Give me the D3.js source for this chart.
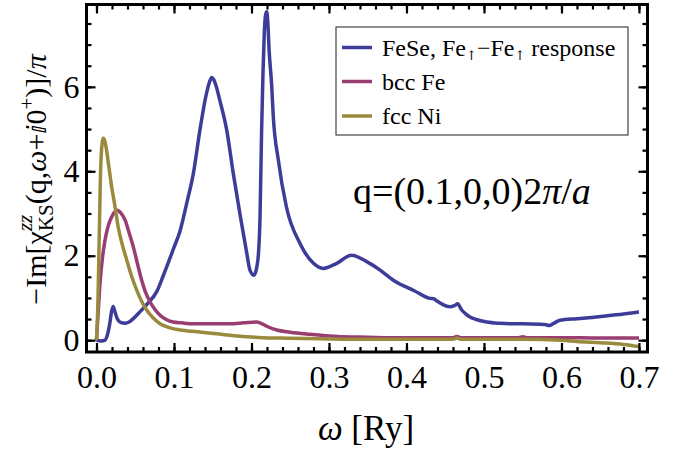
<!DOCTYPE html>
<html>
<head>
<meta charset="UTF-8">
<title></title>
<script src="https://cdn.jsdelivr.net/npm/d3@7"></script>
<style>
  body { margin: 0; background: #fff; }
  text { font-family: "Liberation Serif", "Times New Roman", serif; fill: #000; }
</style>
</head>
<body>
<script>
// FeSe, Fe(up)-Fe(up) response
var feseW = [0, 0.006, 0.011, 0.014, 0.017, 0.0195, 0.0215, 0.024, 0.027, 0.031, 0.0368, 0.042, 0.0475, 0.056, 0.065, 0.0777, 0.086, 0.099, 0.108, 0.1164, 0.125, 0.1335, 0.142, 0.1465, 0.1486, 0.151, 0.155, 0.159, 0.168, 0.1765, 0.185, 0.194, 0.198, 0.2032, 0.2065, 0.209, 0.211, 0.213, 0.2148, 0.2165, 0.2182, 0.2196, 0.221, 0.2228, 0.226, 0.2281, 0.2346, 0.245, 0.2626, 0.28, 0.2926, 0.31, 0.329, 0.3486, 0.366, 0.383, 0.41, 0.43, 0.435, 0.44, 0.456, 0.462, 0.466, 0.471, 0.476, 0.482, 0.49, 0.5035, 0.52, 0.5335, 0.55, 0.572, 0.579, 0.584, 0.59, 0.598, 0.62, 0.645, 0.67, 0.70];
var feseChi = [0, -0.02, 0.0, 0.12, 0.38, 0.68, 0.8, 0.66, 0.5, 0.42, 0.40, 0.43, 0.51, 0.67, 0.85, 1.15, 1.52, 2.15, 2.6, 3.24, 3.95, 4.98, 5.85, 6.15, 6.22, 6.18, 5.98, 5.69, 4.98, 3.95, 3.0, 2.05, 1.66, 1.54, 1.7, 2.05, 2.9, 4.9, 6.3, 7.27, 7.7, 7.78, 7.55, 6.85, 6.05, 5.3, 4.27, 3.16, 2.29, 1.82, 1.70, 1.82, 2.01, 1.86, 1.66, 1.42, 1.17, 0.99, 0.98, 0.92, 0.79, 0.82, 0.86, 0.72, 0.63, 0.55, 0.49, 0.43, 0.40, 0.39, 0.39, 0.38, 0.37, 0.35, 0.40, 0.47, 0.51, 0.55, 0.60, 0.67];

// bcc Fe
var bccW = [0, 0.0023, 0.0045, 0.008, 0.011, 0.015, 0.0196, 0.023, 0.027, 0.031, 0.037, 0.042, 0.0475, 0.053, 0.0583, 0.063, 0.069, 0.075, 0.082, 0.09, 0.099, 0.11, 0.125, 0.15, 0.172, 0.19, 0.2067, 0.211, 0.2196, 0.2325, 0.25, 0.2755, 0.30, 0.318, 0.35, 0.379, 0.43, 0.46, 0.465, 0.47, 0.50, 0.545, 0.55, 0.555, 0.60, 0.65, 0.70];
var bccChi = [0, 0.71, 1.34, 2.0, 2.37, 2.7, 2.92, 3.03, 3.08, 3.02, 2.84, 2.55, 2.21, 1.8, 1.42, 1.15, 0.91, 0.74, 0.59, 0.49, 0.43, 0.41, 0.39, 0.39, 0.39, 0.41, 0.43, 0.41, 0.33, 0.24, 0.19, 0.14, 0.10, 0.08, 0.07, 0.06, 0.06, 0.06, 0.09, 0.06, 0.06, 0.06, 0.08, 0.06, 0.06, 0.05, 0.05];

// fcc Ni
var niW = [0, 0.002, 0.0036, 0.005, 0.0065, 0.0088, 0.011, 0.013, 0.016, 0.0196, 0.024, 0.028, 0.033, 0.039, 0.045, 0.052, 0.058, 0.065, 0.073, 0.082, 0.095, 0.108, 0.13, 0.151, 0.175, 0.194, 0.215, 0.237, 0.27, 0.30, 0.35, 0.40, 0.46, 0.465, 0.47, 0.50, 0.55, 0.60, 0.62, 0.65, 0.68, 0.70];
var niChi = [0, 1.0, 2.53, 3.8, 4.5, 4.78, 4.7, 4.5, 4.1, 3.63, 3.15, 2.68, 2.28, 1.90, 1.53, 1.18, 0.93, 0.71, 0.53, 0.39, 0.29, 0.24, 0.20, 0.16, 0.11, 0.08, 0.06, 0.05, 0.04, 0.03, 0.02, 0.02, 0.02, 0.05, 0.02, 0.02, 0.02, 0.0, -0.03, -0.06, -0.10, -0.15];

var seriesNames = ["FeSe", "bcc Fe", "fcc Ni"];
var xTicks = [0, 0.1, 0.2, 0.3, 0.4, 0.5, 0.6, 0.7];
var yTicks = [0, 2, 4, 6];

var width = 685, height = 454;
var box = {left: 86.5, right: 647.5, top: 4.5, bottom: 352};
var colors = ["#3d3d99", "#993d72", "#998a3d"];

var svg = d3.select("body").append("svg")
  .attr("width", width).attr("height", height);

var x = d3.scaleLinear().domain([-0.0129, 0.711]).range([box.left, box.right]);
var y = d3.scaleLinear().domain([-0.28, 7.95]).range([box.bottom, box.top]);

// clip to frame
svg.append("clipPath").attr("id", "clip").append("rect")
  .attr("x", box.left).attr("y", box.top)
  .attr("width", box.right - box.left).attr("height", box.bottom - box.top);

var line = d3.line()
  .x(function(d){ return x(d[0]); })
  .y(function(d){ return y(d[1]); })
  .curve(d3.curveMonotoneX);

var data = [d3.zip(feseW, feseChi), d3.zip(bccW, bccChi), d3.zip(niW, niChi)];

svg.append("g").attr("clip-path", "url(#clip)")
  .selectAll("path").data(data).enter().append("path")
  .attr("d", line)
  .attr("fill", "none")
  .attr("stroke", function(d, i){ return colors[i]; })
  .attr("stroke-width", 3.5)
  .attr("stroke-linejoin", "round");

// ticks (inward, on all four sides)
var xMinor = d3.range(0, 0.701, 0.02);
var yMinor = d3.range(0, 7.51, 0.5);

function styleAxis(g) {
  g.select(".domain").remove();
  g.selectAll(".tick line").attr("stroke", "#000").attr("stroke-width", 2.2);
  g.selectAll(".tick text").attr("font-size", 32).attr("font-family", "Liberation Serif").attr("fill", "#000");
}

svg.append("g").attr("transform", "translate(0," + box.bottom + ")")
  .call(d3.axisBottom(x).tickValues(xMinor).tickSize(-5).tickFormat("")).call(styleAxis);
svg.append("g").attr("transform", "translate(0," + box.bottom + ")")
  .call(d3.axisBottom(x).tickValues(xTicks).tickSize(-9).tickPadding(13).tickFormat(d3.format(".1f"))).call(styleAxis);
svg.append("g").attr("transform", "translate(0," + box.top + ")")
  .call(d3.axisTop(x).tickValues(xMinor).tickSize(-5).tickFormat("")).call(styleAxis);
svg.append("g").attr("transform", "translate(0," + box.top + ")")
  .call(d3.axisTop(x).tickValues(xTicks).tickSize(-9).tickFormat("")).call(styleAxis);

svg.append("g").attr("transform", "translate(" + box.left + ",0)")
  .call(d3.axisLeft(y).tickValues(yMinor).tickSize(-5).tickFormat("")).call(styleAxis);
svg.append("g").attr("transform", "translate(" + box.left + ",0)")
  .call(d3.axisLeft(y).tickValues(yTicks).tickSize(-9).tickPadding(7).tickFormat(d3.format("d"))).call(styleAxis);
svg.append("g").attr("transform", "translate(" + box.right + ",0)")
  .call(d3.axisRight(y).tickValues(yMinor).tickSize(-5).tickFormat("")).call(styleAxis);
svg.append("g").attr("transform", "translate(" + box.right + ",0)")
  .call(d3.axisRight(y).tickValues(yTicks).tickSize(-9).tickFormat("")).call(styleAxis);

// frame
svg.append("rect")
  .attr("x", box.left).attr("y", box.top)
  .attr("width", box.right - box.left).attr("height", box.bottom - box.top)
  .attr("fill", "none").attr("stroke", "#000").attr("stroke-width", 3);

// x label
var xl = svg.append("text").attr("x", 366).attr("y", 440)
  .attr("text-anchor", "middle").attr("font-size", 35);
xl.append("tspan").attr("font-style", "italic").text("ω");
xl.append("tspan").text(" [Ry]");

// y label (rotated), built from runs
var yg = svg.append("g").attr("transform", "translate(46,179) rotate(-90)");
var yl = yg.append("text").attr("x", 0).attr("y", 0).attr("font-size", 30);
yl.append("tspan").text("−Im[");
yl.append("tspan").text("χ");
var ks = yl.append("tspan").attr("font-size", 21).attr("dy", 7).text("KS");
var ksW = ks.node().getComputedTextLength();
var zz = yl.append("tspan").attr("font-size", 21).attr("font-style", "italic").attr("dy", -21).attr("dx", -ksW).text("zz");
var zzW = zz.node().getComputedTextLength();
yl.append("tspan").attr("dy", 14).attr("dx", Math.max(0, ksW - zzW)).text("(q,");
yl.append("tspan").attr("font-style", "italic").text("ω");
yl.append("tspan").text("+");
yl.append("tspan").attr("font-family", "DejaVu Sans").attr("font-size", 26).text("ⅈ");
yl.append("tspan").text("0");
yl.append("tspan").attr("font-size", 21).attr("dy", -12).text("+");
yl.append("tspan").attr("dy", 12).text(")]/");
yl.append("tspan").attr("font-style", "italic").text("π");
var yb = yl.node().getBBox();
yl.attr("x", -yb.width / 2);

// annotation
var qt = svg.append("text").attr("x", 353).attr("y", 204).attr("font-size", 38);
qt.append("tspan").text("q=(0.1,0,0)2");
qt.append("tspan").attr("font-style", "italic").text("π");
qt.append("tspan").text("/");
qt.append("tspan").attr("font-style", "italic").text("a");

// legend
var legend = svg.append("g");
legend.append("rect")
  .attr("x", 336).attr("y", 27).attr("width", 292).attr("height", 108)
  .attr("fill", "#fff").attr("stroke", "#444").attr("stroke-width", 1.2);
var legY = [47.5, 81.5, 116];
legend.selectAll("line.leg").data(seriesNames).enter().append("line")
  .attr("x1", 342).attr("x2", 372)
  .attr("y1", function(d, i){ return legY[i]; })
  .attr("y2", function(d, i){ return legY[i]; })
  .attr("stroke", function(d, i){ return colors[i]; })
  .attr("stroke-width", 3.5);
var t0 = legend.append("text").attr("x", 382).attr("y", legY[0] + 8).attr("font-size", 24);
t0.append("tspan").text("FeSe, Fe");
t0.append("tspan").attr("font-family", "DejaVu Serif").attr("font-size", 13).attr("dy", 4).text("↑");
t0.append("tspan").attr("dy", -4).text("−Fe");
t0.append("tspan").attr("font-family", "DejaVu Serif").attr("font-size", 13).attr("dy", 4).text("↑");
t0.append("tspan").attr("dy", -4).text(" response");
legend.append("text").attr("x", 382).attr("y", legY[1] + 8).attr("font-size", 24).text(seriesNames[1]);
legend.append("text").attr("x", 382).attr("y", legY[2] + 8).attr("font-size", 24).text(seriesNames[2]);
</script>
</body>
</html>
